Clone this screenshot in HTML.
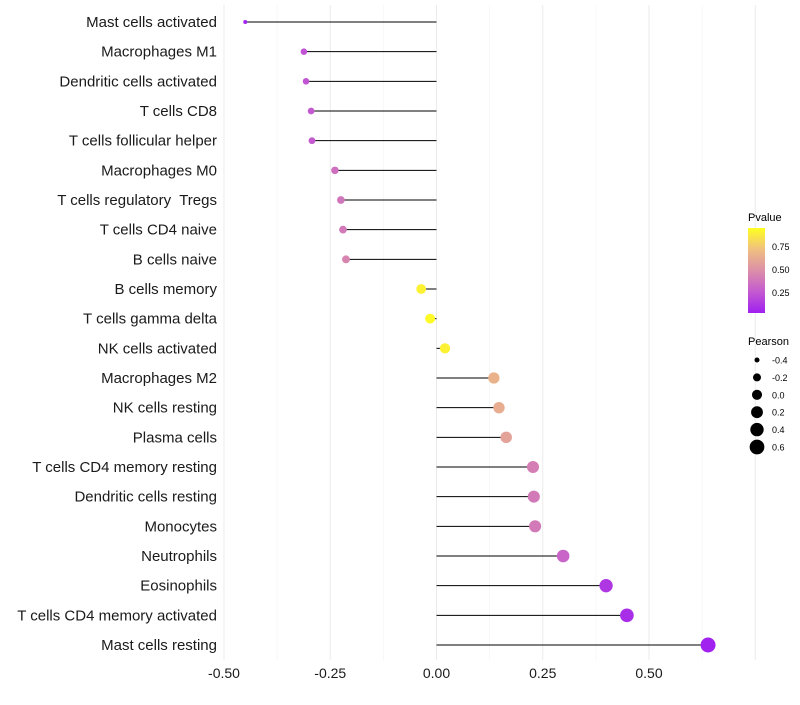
<!DOCTYPE html>
<html><head><meta charset="utf-8"><style>
body{margin:0;background:#fff;font-family:"Liberation Sans",Arial,sans-serif;}
svg text{font-family:"Liberation Sans",Arial,sans-serif;white-space:pre;}
</style></head><body>
<svg id="chart" width="800" height="700" xmlns="http://www.w3.org/2000/svg">
<defs><linearGradient id="pg" x1="0" y1="1" x2="0" y2="0">
<stop offset="0" stop-color="#a020f0"/><stop offset="0.25" stop-color="#c45ad0"/>
<stop offset="0.5" stop-color="#dc8fa8"/><stop offset="0.75" stop-color="#f0c080"/><stop offset="1" stop-color="#ffff20"/>
</linearGradient></defs>
<g id="grid"></g><g id="marks"></g><g id="labels"></g>
<g id="legend">
<text x="748" y="221" font-size="11">Pvalue</text>
<rect x="748" y="228" width="17" height="85" fill="url(#pg)"/>
<text x="772" y="250" font-size="9">0.75</text>
<text x="772" y="273" font-size="9">0.50</text>
<text x="772" y="296" font-size="9">0.25</text>
<text x="748" y="345" font-size="11">Pearson</text>
</g>
</svg>
<script>
const categories=["Mast cells activated","Macrophages M1","Dendritic cells activated","T cells CD8","T cells follicular helper","Macrophages M0","T cells regulatory  Tregs","T cells CD4 naive","B cells naive","B cells memory","T cells gamma delta","NK cells activated","Macrophages M2","NK cells resting","Plasma cells","T cells CD4 memory resting","Dendritic cells resting","Monocytes","Neutrophils","Eosinophils","T cells CD4 memory activated","Mast cells resting"];
const pearson=[-0.45,-0.312,-0.307,-0.295,-0.293,-0.239,-0.225,-0.22,-0.213,-0.036,-0.015,0.02,0.135,0.147,0.164,0.227,0.229,0.232,0.298,0.399,0.448,0.639];
const pvalue=[0.02,0.22,0.23,0.25,0.25,0.35,0.38,0.4,0.45,0.95,0.98,0.95,0.68,0.65,0.6,0.42,0.4,0.4,0.3,0.1,0.06,0.01];
const xTicks=[-0.5,-0.25,0,0.25,0.5];
const xTickLabels=["-0.50","-0.25","0.00","0.25","0.50"];
const sizeLegend=[-0.4,-0.2,0.0,0.2,0.4,0.6];
const sizeLegendLabels=["-0.4","-0.2","0.0","0.2","0.4","0.6"];
const NS="http://www.w3.org/2000/svg";
const xS=v=>436.5+v*425;
const yS=i=>22+i*(623/(categories.length-1));
const rS=p=>Math.sqrt(4+(p+0.45)*47.7);
const stops=[[0,[160,32,240]],[0.25,[196,90,208]],[0.5,[220,143,168]],[0.75,[240,192,128]],[1,[255,255,32]]];
function col(p){for(let k=0;k<stops.length-1;k++){const a=stops[k],b=stops[k+1];if(p<=b[0]){const t=(p-a[0])/(b[0]-a[0]);return "rgb("+a[1].map((c,j)=>Math.round(c+(b[1][j]-c)*t)).join(",")+")";}}return "rgb(255,255,32)";}
function mk(tag,at,par){const e=document.createElementNS(NS,tag);for(const k in at)e.setAttribute(k,at[k]);par.appendChild(e);return e;}
const grid=document.getElementById('grid'),marks=document.getElementById('marks'),labels=document.getElementById('labels'),leg=document.getElementById('legend');
for(let v=-0.5;v<=0.75;v+=0.125){const maj=Math.abs((v*4)%1)<1e-6;const l=mk('line',{x1:xS(v),x2:xS(v),y1:5,y2:660,stroke:maj?'#ebebeb':'#f4f4f4','stroke-width':maj?1:0.6},grid);

}
categories.forEach((c,i)=>{const y=yS(i);
const h=mk('line',{x1:xS(0),x2:xS(pearson[i]),y1:y,y2:y,stroke:'#000','stroke-width':1},marks);


const d=mk('circle',{cx:xS(pearson[i]),cy:y,r:rS(pearson[i]),fill:col(pvalue[i])},marks);


const t=mk('text',{x:217,y:y+5,'text-anchor':'end','font-size':15,fill:'#1a1a1a'},labels);t.textContent=c;

});
xTicks.forEach((v,i)=>{const t=mk('text',{x:xS(v),y:678,'text-anchor':'middle','font-size':14,fill:'#1a1a1a'},labels);t.textContent=xTickLabels[i];

});
sizeLegend.forEach((v,i)=>{const y=360+i*17.4;
const c=mk('circle',{cx:757,cy:y,r:rS(v),fill:'#000'},leg);


const t=mk('text',{x:772,y:y+3.5,'font-size':9},leg);t.textContent=sizeLegendLabels[i];

});
</script>
</body></html>
